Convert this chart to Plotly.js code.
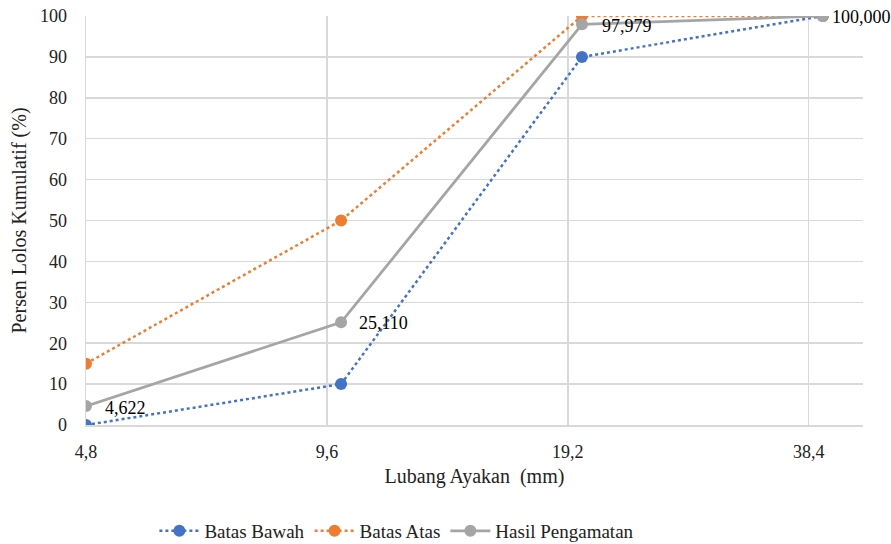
<!DOCTYPE html>
<html>
<head>
<meta charset="utf-8">
<script src="https://cdn.plot.ly/plotly-3.0.1.min.js"></script>
<style>
html,body{margin:0;padding:0;background:#fff;}
#chart{width:891px;height:544px;}
#chart svg text{font-family:"Times New Roman","Liberation Serif",serif !important;}
</style>
</head>
<body>
<div id="chart"></div>
<script>
const sieveSizes = [4.8, 10, 20, 40];
const batasBawah = [0, 10, 90, 100];
const batasAtas = [15, 50, 100, 100];
const hasilPengamatan = [4.622, 25.110, 97.979, 100.000];
const hasilLabels = ["4,622", "25,110", "97,979", "100,000"];
const tickVals = [4.8, 9.6, 19.2, 38.4];
const tickLabels = ["4,8", "9,6", "19,2", "38,4"];

const font = "Times New Roman";
const traces = [
  {x: sieveSizes, y: batasBawah, name: "Batas Bawah", mode: "lines+markers",
   line: {color: "#4472C4", width: 2.5, dash: "dot"}, marker: {color: "#4472C4", size: 12}},
  {x: sieveSizes, y: batasAtas, name: "Batas Atas", mode: "lines+markers",
   line: {color: "#ED7D31", width: 2.5, dash: "dot"}, marker: {color: "#ED7D31", size: 12}},
  {x: sieveSizes, y: hasilPengamatan, name: "Hasil Pengamatan", mode: "lines+markers",
   line: {color: "#A5A5A5", width: 2.75}, marker: {color: "#A5A5A5", size: 12}}
];
const shifts = [17, 16, 18, 7];
const annotations = sieveSizes.map((x, i) => ({
  x: Math.log10(x), y: hasilPengamatan[i], text: hasilLabels[i], showarrow: false,
  xanchor: "left", yanchor: "middle", xshift: shifts[i], yshift: i === 0 ? -2 : (i === 2 ? -2 : -1),
  font: {family: font, size: 18, color: "#000"}
}));
const layout = {
  width: 891, height: 544,
  margin: {l: 86, r: 28, t: 16, b: 119, autoexpand: false},
  paper_bgcolor: "#fff", plot_bgcolor: "#fff",
  font: {family: font, size: 18, color: "#222"},
  showlegend: true,
  legend: {orientation: "h", x: 0.088, xanchor: "left", y: -0.259, yanchor: "middle",
           font: {family: font, size: 19, color: "#222"}, itemwidth: 40, tracegroupgap: 0},
  xaxis: {type: "log", range: [Math.log10(4.8), Math.log10(44.9)], automargin: false,
          tickvals: tickVals, ticktext: tickLabels, ticks: "", ticklen: 0, ticklabelstandoff: 10,
          showgrid: true, gridcolor: "#d9d9d9", gridwidth: 1.5,
          showline: true, linecolor: "#d9d9d9", linewidth: 1.5, zeroline: false,
          tickfont: {family: font, size: 18, color: "#222"},
          title: {text: "Lubang Ayakan  (mm)", font: {family: font, size: 20, color: "#222"}, standoff: 8}},
  yaxis: {range: [0, 100], dtick: 10, tick0: 0, ticks: "", showgrid: true, automargin: false,
          gridcolor: "#d9d9d9", gridwidth: 1.5, zeroline: false, ticklabelstandoff: 14,
          showline: true, linecolor: "#d9d9d9", linewidth: 1.5,
          tickfont: {family: font, size: 18, color: "#222"},
          title: {text: "Persen Lolos Kumulatif (%)", font: {family: font, size: 20, color: "#222"}, standoff: 8}},
  annotations: annotations
};
Plotly.newPlot("chart", traces, layout, {displayModeBar: false, staticPlot: true});
</script>
</body>
</html>
